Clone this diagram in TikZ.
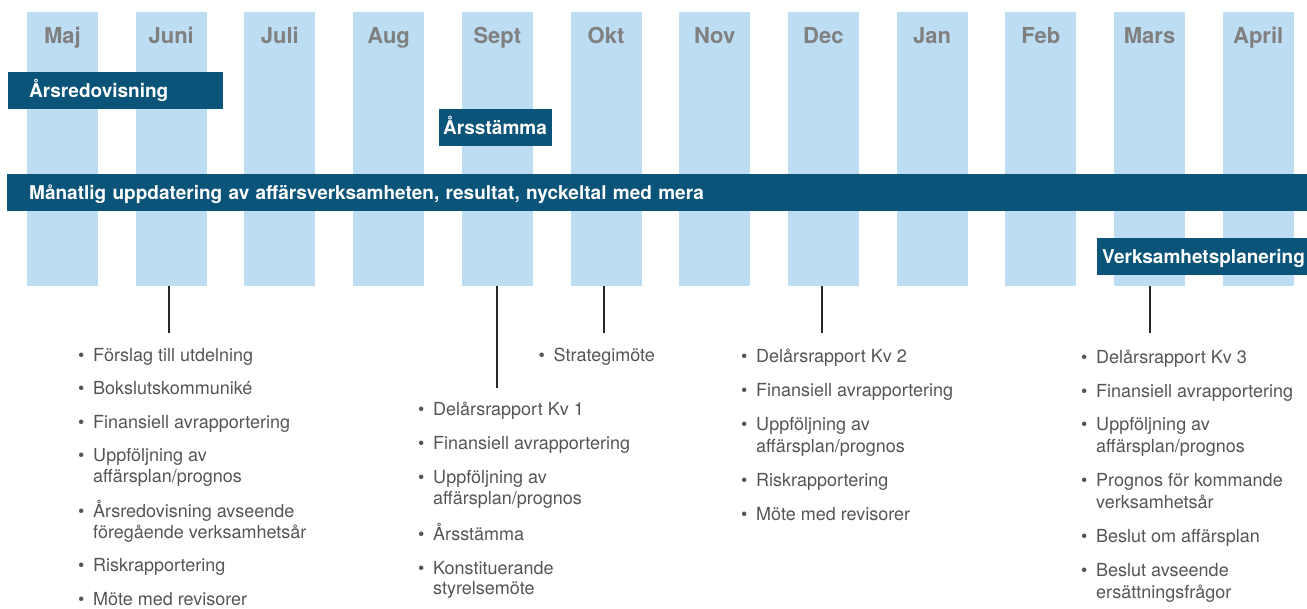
\documentclass[tikz,border=0pt]{standalone}
\usepackage{fontspec}
\setmainfont{TeX Gyre Heros}
\definecolor{manadsbla}{RGB}{189,221,243}
\definecolor{morkbla}{RGB}{10,83,121}
\definecolor{manadsgra}{RGB}{128,128,128}
\definecolor{listgra}{RGB}{85,85,85}
\newcommand{\punkt}{\makebox[15pt][l]{\textbullet}}
\newcommand{\indrag}{\hspace*{15pt}}
\begin{document}
\begin{tikzpicture}[x=1pt,y=-1pt,
    manad/.style={fill=manadsbla,minimum width=71pt,minimum height=274pt,anchor=north,inner sep=0pt},
    manadtext/.style={anchor=base,text=manadsgra,inner sep=0pt,font=\fontsize{22}{22}\selectfont\bfseries},
    balk/.style={fill=morkbla,text=white,anchor=west,align=left,minimum height=37pt,
      text height=13pt,text depth=0pt,font=\fontsize{19}{20}\selectfont\bfseries},
    lista/.style={anchor=base west,align=left,inner sep=0pt,text=listgra,font=\fontsize{18}{21.8}\selectfont},
    streck/.style={line width=2pt,draw=black!85}]
      \useasboundingbox (0,0) rectangle (1307,608);
      % months
      \node[manad] (c1) at (62.5,12) {};
      \node[manad] (c2) at (171.2,12) {};
      \node[manad] (c3) at (279.9,12) {};
      \node[manad] (c4) at (388.6,12) {};
      \node[manad] (c5) at (497.3,12) {};
      \node[manad] (c6) at (606.0,12) {};
      \node[manad] (c7) at (714.7,12) {};
      \node[manad] (c8) at (823.4,12) {};
      \node[manad] (c9) at (932.1,12) {};
      \node[manad] (c10) at (1040.8,12) {};
      \node[manad] (c11) at (1149.5,12) {};
      \node[manad] (c12) at (1258.2,12) {};
      \node[manadtext] (m1) at (62.5,43.5) {Maj};
      \node[manadtext] (m2) at (171.2,43.5) {Juni};
      \node[manadtext] (m3) at (279.9,43.5) {Juli};
      \node[manadtext] (m4) at (388.6,43.5) {Aug};
      \node[manadtext] (m5) at (497.3,43.5) {Sept};
      \node[manadtext] (m6) at (606.0,43.5) {Okt};
      \node[manadtext] (m7) at (714.7,43.5) {Nov};
      \node[manadtext] (m8) at (823.4,43.5) {Dec};
      \node[manadtext] (m9) at (932.1,43.5) {Jan};
      \node[manadtext] (m10) at (1040.8,43.5) {Feb};
      \node[manadtext] (m11) at (1149.5,43.5) {Mars};
      \node[manadtext] (m12) at (1258.2,43.5) {April};
      % bars
      \node[balk,text width=173pt,inner xsep=21pt] (arsred) at (8,90.5) {Årsredovisning};
      \node[balk,text width=105pt,inner xsep=4pt] (stamma) at (439,127.5) {Årsstämma};
      \node[balk,text width=1256pt,inner xsep=22pt] (manatlig) at (7,192.5)
        {Månatlig uppdatering av affärsverksamheten, resultat, nyckeltal med mera};
      \node[balk,text width=200pt,inner xsep=5pt] (planering) at (1097,256.5) {Verksamhetsplanering};
      % ticks
      \coordinate (juniend) at (168.5,333);
      \coordinate (septend) at (497,388);
      \coordinate (oktend) at (603.5,333);
      \coordinate (decend) at (821.5,333);
      \coordinate (marsend) at (1150,333);
      \begin{scope}[streck]
        \draw (c2.south -| juniend) -- (juniend);
        \draw (c5.south -| septend) -- (septend);
        \draw (c6.south -| oktend) -- (oktend);
        \draw (c8.south -| decend) -- (decend);
        \draw (c11.south -| marsend) -- (marsend);
      \end{scope}
      % lists (placed by the baseline of their last line)
      \node[lista,font=\fontsize{18}{20.5}\selectfont] (junilista) at (78,605) {\punkt Förslag till utdelning\\[13pt]
        \punkt Bokslutskommuniké\\[13pt]
        \punkt Finansiell avrapportering\\[13pt]
        \punkt Uppföljning av\\\indrag affärsplan/prognos\\[13pt]
        \punkt Årsredovisning avseende\\\indrag föregående verksamhetsår\\[13pt]
        \punkt Riskrapportering\\[13pt]
        \punkt Möte med revisorer};
      \node[lista,font=\fontsize{18}{20.5}\selectfont] (septlista) at (418,594.5) {\punkt Delårsrapport Kv 1\\[13.5pt]
        \punkt Finansiell avrapportering\\[13.5pt]
        \punkt Uppföljning av\\\indrag affärsplan/prognos\\[13.5pt]
        \punkt Årsstämma\\[13.5pt]
        \punkt Konstituerande\\\indrag styrelsemöte};
      \node[lista] (oktlista) at (538.5,361.5) {\punkt Strategimöte};
      \node[lista,font=\fontsize{18}{21.7}\selectfont] (declista) at (741,520) {\punkt Delårsrapport Kv 2\\[12.3pt]
        \punkt Finansiell avrapportering\\[12.3pt]
        \punkt Uppföljning av\\\indrag affärsplan/prognos\\[12.3pt]
        \punkt Riskrapportering\\[12.3pt]
        \punkt Möte med revisorer};
      \node[lista,font=\fontsize{18}{22}\selectfont] (marslista) at (1081,598.2) {\punkt Delårsrapport Kv 3\\[11.8pt]
        \punkt Finansiell avrapportering\\[11.8pt]
        \punkt Uppföljning av\\\indrag affärsplan/prognos\\[11.8pt]
        \punkt Prognos för kommande\\\indrag verksamhetsår\\[11.8pt]
        \punkt Beslut om affärsplan\\[11.8pt]
        \punkt Beslut avseende\\\indrag ersättningsfrågor};
    \end{tikzpicture}
\end{document}
